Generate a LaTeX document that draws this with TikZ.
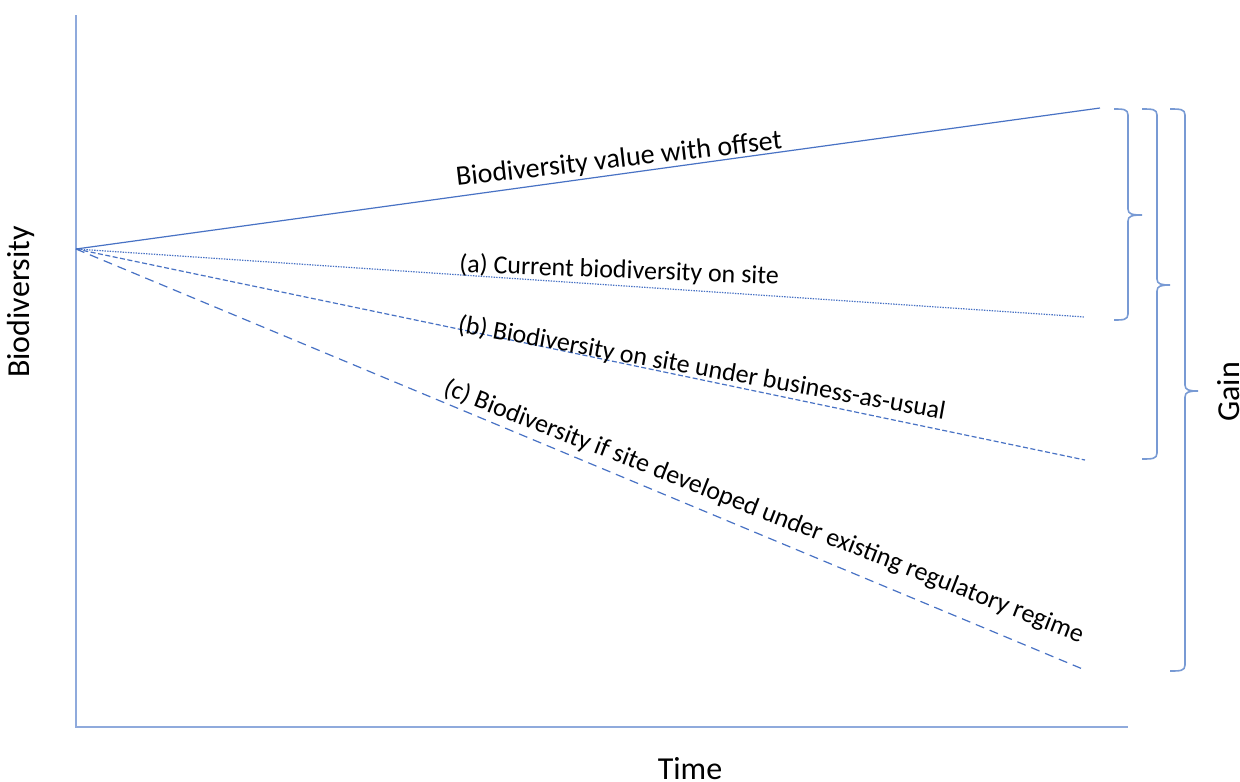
\documentclass[tikz,border=0pt]{standalone}
\usepackage{fontspec}
\setmainfont{Carlito}
\definecolor{lineblue}{RGB}{72,114,196}
\definecolor{axisblue}{RGB}{143,170,220}
\definecolor{braceblue}{RGB}{120,154,212}
% curly bracket opening to the left: x0 hook ends, x1 spine, x2 tip
\newcommand{\gainbrace}[6]{%
  \draw[brace] (#1,#4) .. controls ({#2-5},#4) and (#2,#4) .. (#2,{#4+6})
    -- (#2,{#5-6}) .. controls (#2,{#5-1}) and ({#2+4},#5) .. (#3,#5)
    .. controls ({#2+4},#5) and (#2,{#5+1}) .. (#2,{#5+6})
    -- (#2,{#6-6}) .. controls (#2,#6) and ({#2-5},#6) .. (#1,#6);}
\begin{document}
\begin{tikzpicture}[x=1pt,y=-1pt,
  axis/.style={draw=axisblue,line width=1.6pt},
  trend/.style={draw=lineblue,line width=1.2pt},
  brace/.style={draw=braceblue,line width=1.6pt},
  lab/.style={inner sep=0pt,font=\fontsize{26}{30}\selectfont},
  axlab/.style={inner sep=0pt,font=\fontsize{32}{36}\selectfont}]
\useasboundingbox (0,0) rectangle (1240,782);
% axes
\coordinate (ytop) at (76,15);
\coordinate (orig) at (76,727);
\coordinate (xend) at (1128,727);
\draw[axis] (ytop) -- (orig) -- (xend);
% trajectories from the common starting value
\coordinate (O) at (76,249);
\coordinate (eOff) at (1100,108);
\coordinate (eA) at (1085,317);
\coordinate (eB) at (1085,460);
\coordinate (eC) at (1085,670);
\draw[trend] (O) -- (eOff);
\draw[trend,dash pattern=on 1.4pt off 1.2pt] (O) -- (eA);
\draw[trend,dash pattern=on 5pt off 2.5pt] (O) -- (eB);
\draw[trend,dash pattern=on 9pt off 6pt] (O) -- (eC);
% trajectory labels
\node[lab,font=\fontsize{28}{32}\selectfont,anchor=base west,rotate=6.5] (tOff) at (457,186) {Biodiversity value with offset};
\node[lab,anchor=base west,rotate=-2.2] (tA) at (459,272) {(a) Current biodiversity on site};
\node[lab,anchor=base west,rotate=-10.2] (tB) at (457,332) {(b) Biodiversity on site under business-as-usual};
\node[lab,anchor=base west,rotate=-21.3] (tC) at (442,394) {(c) Biodiversity if site developed under existing regulatory regime};
% gain brackets
\gainbrace{1114}{1128}{1142}{109}{215}{320}
\gainbrace{1142}{1157}{1170}{109}{285}{459}
\gainbrace{1170}{1185}{1198}{109}{391}{671}
% axis and bracket captions
\node[axlab,rotate=90] (ylab) at (21,302) {Biodiversity};
\node[axlab,anchor=base] (xlab) at (690,779) {Time};
\node[axlab,rotate=90,anchor=base] (glab) at (1239,392) {Gain};
\end{tikzpicture}
\end{document}
